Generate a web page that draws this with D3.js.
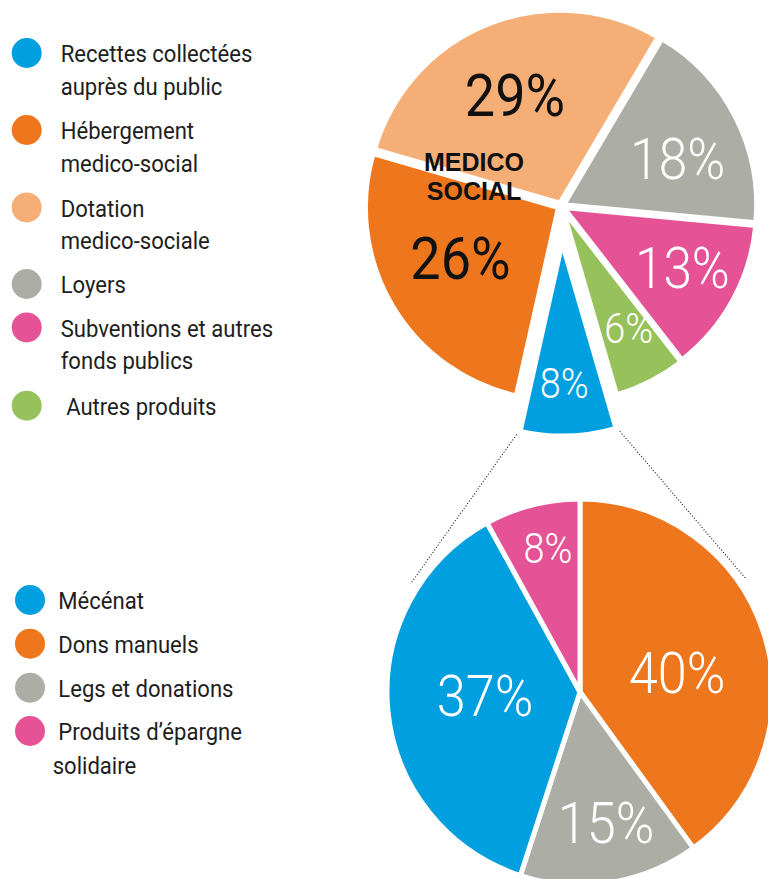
<!DOCTYPE html>
<html><head><meta charset="utf-8">
<script src="https://cdn.jsdelivr.net/npm/d3@7"></script>
<style>html,body{margin:0;padding:0;background:#fff;} svg{display:block;}</style>
</head><body>
<script>
// ---------- DATA ----------
// Top pie (legend order)
const topLegendLines = [["Recettes collectées","auprès du public"],["Hébergement","medico-social"],["Dotation","medico-sociale"],["Loyers"],["Subventions et autres","fonds publics"],["\u00a0Autres produits"]];
const topValues = [8, 26, 29, 18, 13, 6];
const topLabels = ["8%", "26%", "29%", "18%", "13%", "6%"];
const topColors = ["#009fe0", "#ee771d", "#f6ae77", "#acaea6", "#e55396", "#97c15a"];
const topTitle = ["MEDICO", "SOCIAL"];

// Bottom pie (legend order)
const bottomLegendLines = [["Mécénat"],["Dons manuels"],["Legs et donations"],["Produits d’épargne","solidaire"]];
const bottomValues = [37, 40, 15, 8];
const bottomLabels = ["37%", "40%", "15%", "8%"];
const bottomColors = ["#009fe0", "#ee771d", "#acaea6", "#e55396"];
const bottomDrawOrder = [1, 2, 0, 3];

// ---------- LAYOUT ----------
const W = 768, H = 879;
const deg = Math.PI / 180;
const svg = d3.select("body").append("svg").attr("width", W).attr("height", H);

const topCfg = {
  cx: 561, cy: 206, start: 163.8,
  explode: [37, 3, 3, 3, 3, 4],
  radius: [193, 193, 193, 193, 193, 193],
  labelR: [140, 110, 117, 123, 133, 136],
  labelNudge: [1, 3.6, -1, 5, -2, -2],
  labelSize: [42, 60, 60, 57, 57, 42],
  labelFill: ["#fff", "#111", "#111", "#fff", "#fff", "#fff"],
  labelWeight: [300, 400, 400, 300, 300, 300]
};
const botCfg = {
  cx: 580, cy: 692, start: 0, radius: 193,
  labelR: [95, 99, 133, 147],
  labelNudge: [3.4, 6.7, -2.3, 1.8],
  labelSize: [58, 58, 58, 42]
};

function polar(a, r) { return [Math.sin(a) * r, -Math.cos(a) * r]; }

// ---------- TOP PIE ----------
const topPie = d3.pie().sort(null).value(d => d)
  .startAngle(topCfg.start * deg).endAngle(topCfg.start * deg + 2 * Math.PI);
const topArcs = topPie(topValues);
const gTop = svg.append("g").attr("transform", `translate(${topCfg.cx},${topCfg.cy})`);

const topSlices = gTop.selectAll("g.slice").data(topArcs).join("g").attr("class", "slice")
  .attr("transform", (d, i) => {
    const m = (d.startAngle + d.endAngle) / 2;
    const [x, y] = polar(m, topCfg.explode[i]);
    return `translate(${x},${y})`;
  });
topSlices.append("path")
  .attr("d", (d, i) => d3.arc().innerRadius(0).outerRadius(topCfg.radius[i])(d))
  .attr("fill", (d, i) => topColors[i])
  .attr("stroke", "#fff").attr("stroke-width", 5).attr("stroke-linejoin", "miter");

// title
const title = gTop.append("text")
  .attr("text-anchor", "middle")
  .attr("font-family", "'Liberation Sans', Arial, sans-serif")
  .attr("font-weight", 700).attr("font-size", 25).attr("fill", "#111");
topTitle.forEach((t, k) => title.append("tspan").attr("x", -87).attr("y", -35 + k * 29).text(t));

topSlices.append("text")
  .attr("transform", (d, i) => {
    const m = (d.startAngle + d.endAngle) / 2 + topCfg.labelNudge[i] * deg;
    const [x, y] = polar(m, topCfg.labelR[i]);
    return `translate(${x},${y}) scale(0.9,1)`;
  })
  .attr("dy", "0.355em")
  .attr("text-anchor", "middle")
  .attr("font-family", "Roboto, sans-serif")
  .attr("font-size", (d, i) => topCfg.labelSize[i])
  .attr("font-weight", (d, i) => topCfg.labelWeight[i])
  .attr("fill", (d, i) => topCfg.labelFill[i])
  .text((d, i) => topLabels[i]);

// ---------- BOTTOM PIE ----------
const botOrdered = bottomDrawOrder.map(i => ({ i, v: bottomValues[i] }));
const botPie = d3.pie().sort(null).value(d => d.v)
  .startAngle(botCfg.start * deg).endAngle(botCfg.start * deg + 2 * Math.PI);
const botArcs = botPie(botOrdered);
const gBot = svg.append("g").attr("transform", `translate(${botCfg.cx},${botCfg.cy})`);
const botArc = d3.arc().innerRadius(0).outerRadius(botCfg.radius);
gBot.selectAll("path").data(botArcs).join("path")
  .attr("d", botArc)
  .attr("fill", d => bottomColors[d.data.i])
  .attr("stroke", "#fff").attr("stroke-width", 5);
gBot.selectAll("text").data(botArcs).join("text")
  .attr("transform", d => {
    const i = d.data.i;
    const m = (d.startAngle + d.endAngle) / 2 + botCfg.labelNudge[i] * deg;
    const [x, y] = polar(m, botCfg.labelR[i]);
    return `translate(${x},${y}) scale(0.9,1)`;
  })
  .attr("dy", "0.355em")
  .attr("text-anchor", "middle")
  .attr("font-family", "Roboto, sans-serif")
  .attr("font-weight", 300)
  .attr("font-size", d => botCfg.labelSize[d.data.i])
  .attr("fill", "#fff")
  .text(d => bottomLabels[d.data.i]);

// ---------- CONNECTOR (dotted) ----------
const blue = topArcs[0];
const blueOff = polar((blue.startAngle + blue.endAngle) / 2, topCfg.explode[0]);
const rb = topCfg.radius[0] - 2.5;
const corners = [blue.endAngle, blue.startAngle].map(a => {
  const [x, y] = polar(a, rb);
  return [topCfg.cx + blueOff[0] + x, topCfg.cy + blueOff[1] + y];
});
const ends = [-57.5, 56].map(a => {
  const [x, y] = polar(a * deg, 201);
  return [botCfg.cx + x, botCfg.cy + y];
});
corners.forEach((c, k) => {
  const e = ends[k];
  const dx = e[0] - c[0], dy = e[1] - c[1], L = Math.hypot(dx, dy);
  const s = [c[0] + dx / L * 7, c[1] + dy / L * 7];
  svg.append("line")
    .attr("x1", s[0]).attr("y1", s[1]).attr("x2", e[0]).attr("y2", e[1])
    .attr("stroke", "#111").attr("stroke-width", 1.1).attr("stroke-dasharray", "1 2");
});

// ---------- LEGENDS ----------
function legend(lines, colors, cfg) {
  const g = svg.append("g");
  lines.forEach((ls, i) => {
    const base = cfg.baselines[i];
    g.append("circle").attr("cx", cfg.cx).attr("cy", base - 9.3).attr("r", 15).attr("fill", colors[i]);
    ls.forEach((l, k) => {
      const x = k === 0 ? cfg.tx : (cfg.tx2 ?? cfg.tx);
      g.append("text")
        .attr("transform", `translate(${x},${base + k * cfg.lh}) scale(0.96,1)`)
        .attr("font-family", "Roboto, sans-serif")
        .attr("font-size", 23).attr("fill", "#1e1e1e")
        .text(l);
    });
  });
}
legend(topLegendLines, topColors, { cx: 26.7, tx: 60.7, lh: 32.5, baselines: [62.3, 139.3, 216.7, 293.3, 336.7, 415] });
legend(bottomLegendLines, bottomColors, { cx: 30, tx: 58.3, tx2: 52.7, lh: 34, baselines: [609.3, 653, 697, 740.3] });
</script>
</body></html>
